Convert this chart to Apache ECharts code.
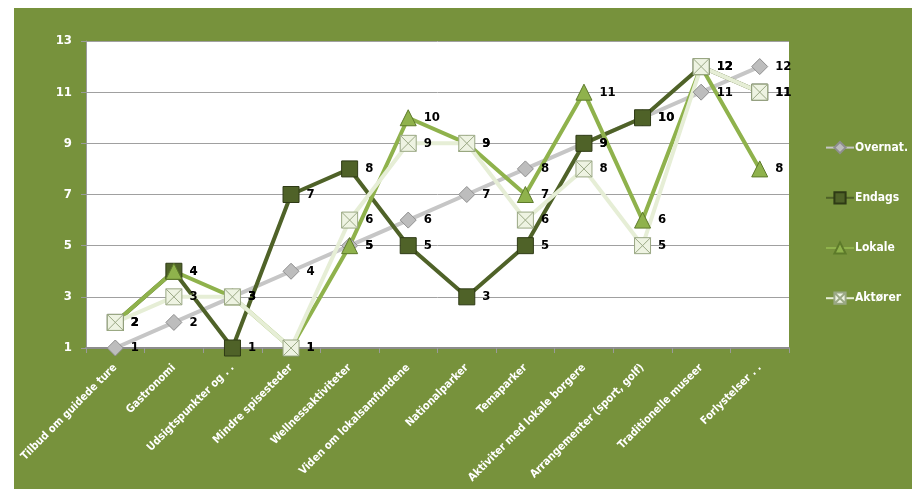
<!DOCTYPE html>
<html><head><meta charset="utf-8">
<script src="https://cdn.jsdelivr.net/npm/echarts@6/dist/echarts.min.js"></script>
<style>html,body{margin:0;padding:0;background:#fff}#c{width:912px;height:489px}</style>
</head><body><div id="c"></div>
<script>
const categories = ["Tilbud om guidede ture","Gastronomi","Udsigtspunkter og . .","Mindre spisesteder","Wellnessaktiviteter","Viden om lokalsamfundene","Nationalparker","Temaparker","Aktiviter med lokale borgere","Arrangementer (sport, golf)","Traditionelle museer","Forlystelser . ."];
const overnat = [1,2,3,4,5,6,7,8,9,10,11,12];
const endags  = [2,4,1,7,8,5,3,5,9,10,12,11];
const lokale  = [2,4,3,1,5,10,9,7,11,6,12,8];
const aktorer = [2,3,3,1,6,9,9,6,8,5,12,11];
const seriesNames = ["Overnat.","Endags","Lokale","Aktører"];
const yTicks = {min:1, max:13, interval:2};

const FONT = '"DejaVu Sans Condensed","Liberation Sans Narrow",sans-serif';
const W = 'bold';
const lbl = {show:true, position:'right', distance:7, color:'#000', fontFamily:FONT, fontWeight:W, fontSize:13};
function mk(name, data, lineColor, symbol, fill, border){
  return {name, type:'line', data, symbol, symbolSize:16,
    lineStyle:{color:lineColor, width:4},
    itemStyle:{color:fill, borderColor:border, borderWidth:1},
    label:lbl, emphasis:{disabled:true}};
}
const xSym = 'path://M0,0 L10,0 L10,10 L0,10 Z M0,0 L10,10 M10,0 L0,10';
const chart = echarts.init(document.getElementById('c'));
chart.setOption({
  animation:false,
  backgroundColor:'#fff',
  graphic:[{type:'rect', z:-10, shape:{x:14,y:8,width:898,height:481}, style:{fill:'#77923c'}}],
  grid:{left:86, top:41, right:123, bottom:141, show:true, backgroundColor:'#fff', borderWidth:0, outerBoundsMode:'none', containLabel:false},
  legend:{orient:'vertical', left:820, top:136, itemGap:37, itemWidth:28, itemHeight:14,
    textStyle:{color:'#fff', fontFamily:FONT, fontWeight:W, fontSize:12, padding:[0,0,0,-4]},
    data:seriesNames},
  xAxis:{type:'category', data:categories, boundaryGap:true,
    axisLine:{lineStyle:{color:'#8c8c8c', width:2}},
    axisTick:{show:true, length:5, lineStyle:{color:'#9a9a9a'}},
    axisLabel:{rotate:45, color:'#fff', fontFamily:FONT, fontWeight:W, fontSize:11, margin:18, interval:0}},
  yAxis:{type:'value', min:yTicks.min, max:yTicks.max, interval:yTicks.interval,
    axisLine:{show:true, lineStyle:{color:'#9a9a9a'}},
    axisTick:{show:true, length:5, lineStyle:{color:'#9a9a9a'}},
    splitLine:{lineStyle:{color:'#a0a0a0', width:1}},
    axisLabel:{color:'#fff', fontFamily:FONT, fontWeight:W, fontSize:13, margin:14}},
  series:[
    mk(seriesNames[0], overnat, '#c6c6c6', 'diamond', '#bdbdbd', '#8f8f8f'),
    mk(seriesNames[1], endags, '#4f6228', 'rect', '#4f6228', '#2e3a15'),
    mk(seriesNames[2], lokale, '#8fb24c', 'triangle', '#8fb24c', '#5d7a2a'),
    mk(seriesNames[3], aktorer, '#e6eed6', xSym, '#eef3e2', '#9aa884')
  ]
});
</script></body></html>
